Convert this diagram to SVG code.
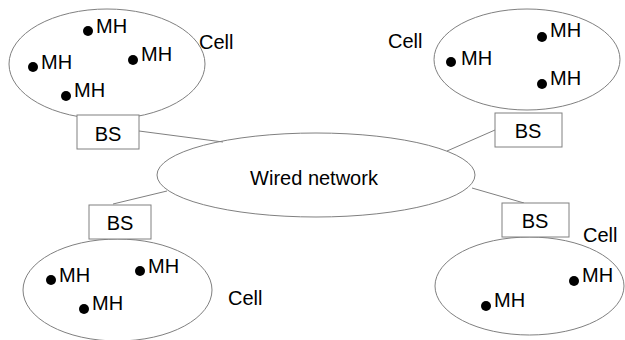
<svg xmlns="http://www.w3.org/2000/svg" width="625" height="340" viewBox="0 0 625 340">
<style>
.cell{fill:none;stroke:#808080;stroke-width:1}
.bs{fill:#fff;stroke:#808080;stroke-width:1}
.ln{stroke:#808080;stroke-width:1;fill:none}
text{font-family:"Liberation Sans",Arial,sans-serif;font-size:20px;fill:#000}
.c{text-anchor:middle}
.dot{fill:#000}
</style>
<rect width="625" height="340" fill="#fff"/>
<g id="connectors">
<line class="ln" x1="139" y1="131" x2="223" y2="142"/>
<line class="ln" x1="495" y1="130" x2="447" y2="151"/>
<line class="ln" x1="113" y1="204" x2="167" y2="191"/>
<line class="ln" x1="524" y1="203" x2="472" y2="188"/>
</g>
<g id="wired">
<ellipse class="cell" cx="316" cy="175" rx="159" ry="42"/>
<text class="c" x="314" y="185">Wired network</text>
</g>
<g id="cell-tl">
<ellipse class="cell" cx="107" cy="64" rx="98" ry="55"/>
<circle class="dot" cx="88" cy="31" r="5"/><text x="96" y="33">MH</text>
<circle class="dot" cx="33" cy="67" r="5"/><text x="41" y="69">MH</text>
<circle class="dot" cx="133" cy="60" r="5"/><text x="141" y="61">MH</text>
<circle class="dot" cx="66" cy="96" r="5"/><text x="74" y="97">MH</text>
<text x="199" y="49">Cell</text>
</g>
<g id="bs-tl">
<rect class="bs" x="77" y="115" width="62" height="34"/>
<text class="c" x="108" y="141">BS</text>
</g>
<g id="cell-tr">
<ellipse class="cell" cx="527" cy="59.5" rx="93" ry="50.5"/>
<circle class="dot" cx="542" cy="37" r="5"/><text x="550" y="37">MH</text>
<circle class="dot" cx="451" cy="62" r="5"/><text x="461" y="65">MH</text>
<circle class="dot" cx="542" cy="84" r="5"/><text x="550" y="85">MH</text>
<text x="388" y="48">Cell</text>
</g>
<g id="bs-tr">
<rect class="bs" x="495" y="113" width="67" height="34"/>
<text class="c" x="528" y="138">BS</text>
</g>
<g id="cell-bl">
<ellipse class="cell" cx="117.5" cy="290" rx="94.5" ry="51"/>
<circle class="dot" cx="51" cy="280" r="5"/><text x="59" y="282">MH</text>
<circle class="dot" cx="140" cy="271" r="5"/><text x="148" y="273">MH</text>
<circle class="dot" cx="84" cy="309" r="5"/><text x="92" y="310">MH</text>
<text x="228" y="305">Cell</text>
</g>
<g id="bs-bl">
<rect class="bs" x="89" y="205" width="62" height="34"/>
<text class="c" x="120" y="230">BS</text>
</g>
<g id="cell-br">
<ellipse class="cell" cx="529.5" cy="286" rx="94.5" ry="49"/>
<circle class="dot" cx="574" cy="281" r="5"/><text x="582" y="282">MH</text>
<circle class="dot" cx="486" cy="306" r="5"/><text x="494" y="307">MH</text>
<text x="583" y="242">Cell</text>
</g>
<g id="bs-br">
<rect class="bs" x="502" y="203" width="67" height="34"/>
<text class="c" x="535" y="228">BS</text>
</g>
</svg>
